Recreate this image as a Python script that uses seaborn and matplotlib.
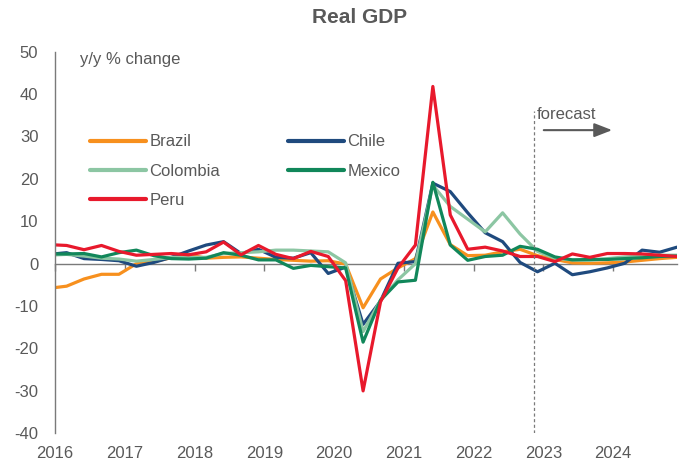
import numpy as np
import pandas as pd
import matplotlib
matplotlib.use("Agg")
import matplotlib.pyplot as plt
from matplotlib.lines import Line2D
import seaborn as sns

# ---- data (quarterly y/y % change, 2015Q4 .. 2024Q4) ----
quarters = [str(p) for p in pd.period_range("2015Q4", "2024Q4", freq="Q")]

brazil = [-5.8,
          -5.3, -3.6, -2.5, -2.5,
          0.0, 0.5, 1.4, 2.1,
          1.3, 1.5, 1.6, 1.3,
          1.0, 0.8, 0.6, 0.7,
          -0.1, -10.4, -3.6, -1.0,
          1.2, 12.2, 4.5, 1.9,
          2.0, 2.8, 3.4, 1.9,
          1.0, 0.2, 0.1, 0.2,
          0.4, 0.8, 1.2, 1.5]
chile = [2.2,
         2.6, 1.2, 1.0, 0.7,
         -0.6, 0.3, 1.5, 3.0,
         4.4, 5.2, 2.4, 3.4,
         1.5, 1.3, 2.6, -2.3,
         -0.8, -14.3, -8.8, 0.1,
         0.5, 19.0, 17.0, 12.0,
         7.3, 5.2, 0.3, -1.9,
         0.1, -2.6, -1.9, -1.0,
         0.1, 3.2, 2.7, 3.9]
colombia = [2.0,
            2.2, 1.8, 1.3, 1.1,
            0.6, 1.0, 1.5, 1.5,
            1.5, 2.4, 2.6, 2.8,
            3.2, 3.2, 3.0, 2.8,
            0.2, -16.0, -8.6, -3.8,
            0.0, 18.5, 13.5, 10.5,
            7.5, 12.0, 7.0, 2.9,
            1.3, 0.9, 0.8, 1.2,
            1.6, 1.8, 2.0, 2.0]
mexico = [2.3,
          2.3, 2.4, 1.6, 2.6,
          3.2, 1.9, 1.2, 1.1,
          1.3, 2.6, 2.0, 0.9,
          0.9, -1.1, -0.4, -0.7,
          -1.0, -18.5, -8.6, -4.3,
          -3.9, 19.2, 4.4, 0.8,
          1.7, 2.0, 4.1, 3.4,
          1.6, 0.9, 1.0, 1.0,
          1.2, 1.4, 1.7, 1.8]
peru = [4.5,
        4.3, 3.3, 4.3, 2.9,
        2.0, 2.2, 2.4, 2.1,
        2.8, 5.1, 2.1, 4.3,
        2.2, 1.2, 2.9, 1.7,
        -4.0, -30.0, -9.0, -1.0,
        4.4, 41.8, 11.5, 3.4,
        3.9, 3.0, 1.7, 1.7,
        0.5, 2.3, 1.5, 2.4,
        2.4, 2.3, 2.0, 1.7]

countries = ["Brazil", "Chile", "Colombia", "Mexico", "Peru"]
series = [brazil, chile, colombia, mexico, peru]
colors = {"Brazil": "#F7901E", "Chile": "#1F4A7E", "Colombia": "#8CC6A3",
          "Mexico": "#11875A", "Peru": "#E8192C"}
year_ticks = list(range(2016, 2025))
forecast_start = "2022Q4"

# quarter -> decimal year (first day of last month in quarter)
def qpos(q):
    return int(q[:4]) + (3 * int(q[-1]) - 1) / 12

xs = [qpos(q) for q in quarters]
df = pd.DataFrame([(c, x, v) for c, s in zip(countries, series) for x, v in zip(xs, s)],
                  columns=["country", "x", "value"])

# ---- style ----
sns.set_theme(style="white")
plt.rcParams["font.family"] = ["Liberation Sans", "DejaVu Sans"]
plt.rcParams["axes.unicode_minus"] = False
txt = "#595959"
gray = "#7a7a7a"

W, H = 698, 468
fig = plt.figure(figsize=(W / 100, H / 100), dpi=100)
ax_l, ax_r, ax_t, ax_b = 55, 677, 51.7, 433.3
ax = fig.add_axes([ax_l / W, (H - ax_b) / H, (ax_r - ax_l) / W, (ax_b - ax_t) / H])

sns.lineplot(data=df, x="x", y="value", hue="country", hue_order=countries,
             palette=colors, linewidth=2.3, estimator=None, legend=False, ax=ax)

ax.set_xlim(2016, qpos("2024Q4"))
ax.set_ylim(-40, 50)
ax.set_xlabel("")
ax.set_ylabel("")

for s in ["top", "right", "bottom"]:
    ax.spines[s].set_visible(False)
ax.spines["left"].set_color(gray)
ax.spines["left"].set_linewidth(1.0)

ax.set_yticks(range(-40, 51, 10))
ax.tick_params(axis="y", direction="in", length=5, width=1, color=gray, pad=12,
               labelsize=12, labelcolor=txt)
ax.set_xticks(year_ticks)
ax.set_xticklabels([str(y) for y in year_ticks])
ax.tick_params(axis="x", length=0, pad=9, labelsize=12, labelcolor=txt)

# zero line with year ticks
sec = ax.secondary_xaxis(40 / 90)
sec.set_xticks(year_ticks)
sec.xaxis.set_ticks_position("bottom")
sec.tick_params(axis="x", direction="out", length=5, width=1, color=gray,
                labelbottom=False, labeltop=False)
sec.spines["top"].set_visible(False)
sec.spines["bottom"].set_color(gray)
sec.spines["bottom"].set_linewidth(1.0)

# forecast marker
fx = qpos(forecast_start) - 0.05
ax.axvline(fx, ymin=0, ymax=(36.0 + 40) / 90, color=gray, lw=0.9, ls=(0, (2.5, 2)))
ax.text(fx + 0.04, 34.1, "forecast", color=txt, fontsize=12, ha="left", va="baseline")
ax.annotate("", xy=(fx + 1.12, 31.5), xytext=(fx + 0.14, 31.5),
            arrowprops=dict(arrowstyle="-|>,head_length=0.9,head_width=0.35",
                            color=txt, lw=1.5, shrinkA=0, shrinkB=0))

# unit label and title
fig.text(80 / W, 1 - 64 / H, "y/y % change", color=txt, fontsize=12, va="baseline")
fig.text(360 / W, 1 - 17.5 / H, "Real GDP", ha="center", va="center",
         fontsize=15, fontweight="bold", color=txt)

# legend (column-wise fill -> rows: Brazil/Chile, Colombia/Mexico, Peru)
leg_order = ["Brazil", "Colombia", "Peru", "Chile", "Mexico"]
handles = [Line2D([], [], color=colors[c], lw=3) for c in leg_order]
ax.legend(handles, leg_order, ncol=2, frameon=False, fontsize=12,
          loc="upper left", bbox_to_anchor=((90 - ax_l) / (ax_r - ax_l), (ax_b - 134.5) / (ax_b - ax_t)),
          borderaxespad=0, borderpad=0, handlelength=3.35, handletextpad=0.2,
          columnspacing=4.1, labelspacing=0.85, labelcolor=txt)

fig.savefig("out.png", dpi=100)
